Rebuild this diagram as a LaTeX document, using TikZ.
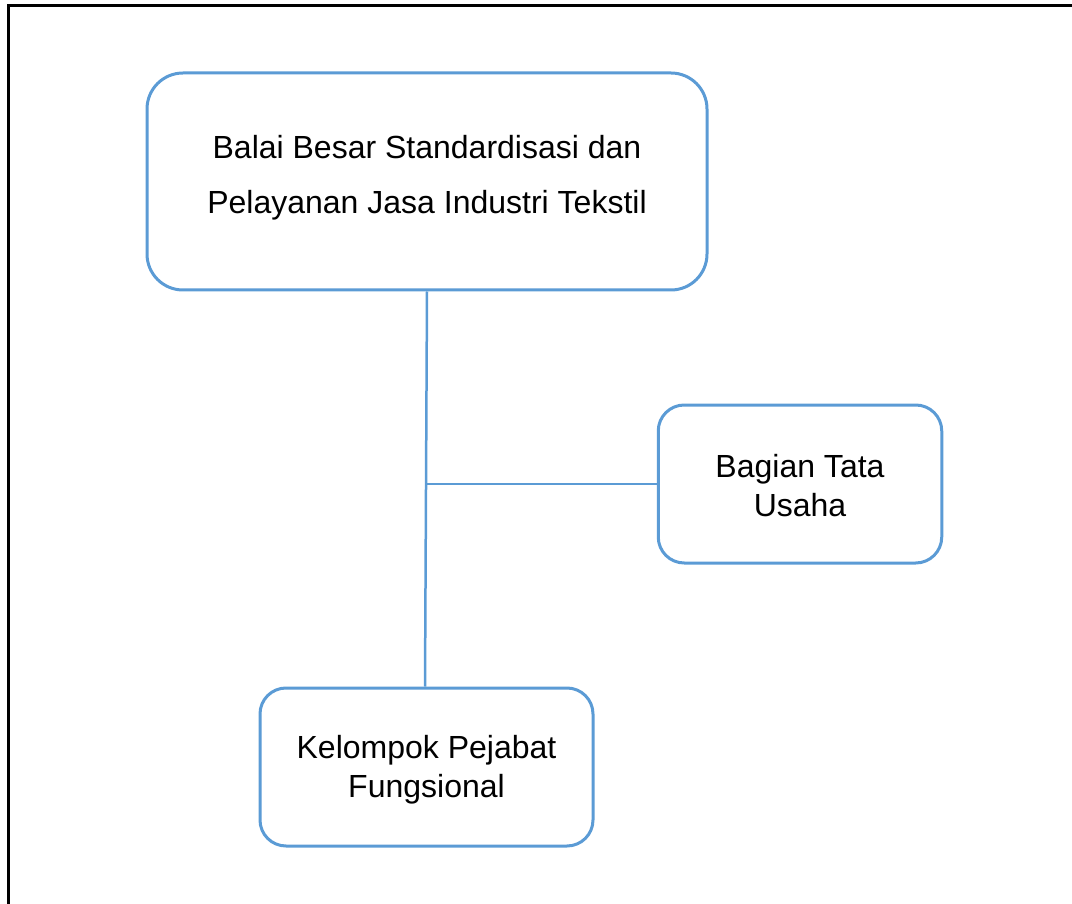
\documentclass[tikz,border=0pt]{standalone}
\usepackage{fontspec}
\setmainfont{Liberation Sans}
\definecolor{boxblue}{HTML}{5B9BD5}
\tikzset{
  orgbox/.style={draw=boxblue, line width=3pt, rounded corners=#1, inner sep=0pt, fill=white},
  conn/.style={draw=boxblue, line width=2.5pt},
  lblwide/.style={align=center, inner sep=0pt, anchor=north, font=\fontsize{32}{55}\selectfont},
  lbl/.style={align=center, inner sep=0pt, anchor=north, font=\fontsize{32}{39}\selectfont},
}
\begin{document}
\begin{tikzpicture}[x=1pt,y=-1pt]
\useasboundingbox (0,0) rectangle (1072,904);
% outer frame (left and top edges visible)
\draw[line width=3pt, black] (8,904) -- (8,5.5) -- (1072,5.5);
% boxes
\node[orgbox=36pt, minimum width=560pt, minimum height=217pt] (top) at (427,181.5) {};
\node[orgbox=26pt, minimum width=283.5pt, minimum height=158pt] (tu) at (800,484) {};
\node[orgbox=26pt, minimum width=333pt, minimum height=158pt] (kpf) at (426.5,767) {};
% labels
\node[lblwide] (toptext) at (427,135.5) {Balai Besar Standardisasi dan\\Pelayanan Jasa Industri Tekstil};
\node[lbl] (tutext) at (800,454) {Bagian Tata\\Usaha};
\node[lbl] (kpftext) at (426.5,735.5) {Kelompok Pejabat\\Fungsional};
% connectors
\draw[conn] (top.south) -- ([xshift=-1.5pt]kpf.north);
\draw[conn] (tu.west) -- (tu.west -| top.south);
\end{tikzpicture}
\end{document}
